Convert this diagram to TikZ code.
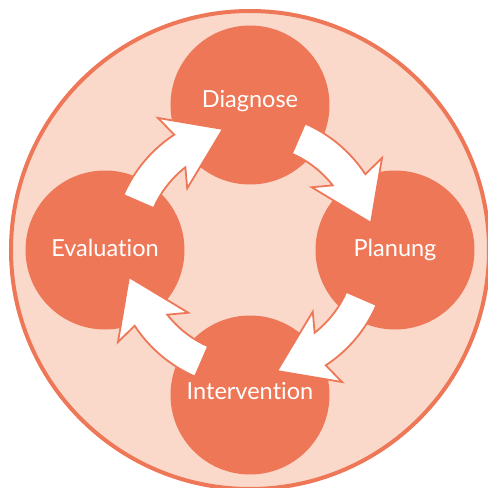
\documentclass[tikz,border=0pt]{standalone}
\usepackage{fontspec}
\setmainfont[Ligatures=NoCommon]{Lato}
\definecolor{salmon}{RGB}{238,119,87}
\definecolor{blush}{RGB}{250,217,203}
\begin{document}
\begin{tikzpicture}[x=1pt,y=1pt,
  phase/.style={circle,fill=salmon,minimum size=159pt,inner sep=0pt},
  lbl/.style={text=white,font=\fontsize{23.5}{24}\selectfont,anchor=base,inner sep=0pt},
  cyc/.style={fill=white,draw=salmon,line width=1.8pt,line join=miter}]
\useasboundingbox (-250,-238) rectangle (238,250);
\draw[fill=blush,draw=salmon,line width=4pt] (0,0) circle (239);
\node[phase] (diag) at (0,145) {};
\node[phase] (plan) at (145,0) {};
\node[phase] (inter) at (0,-145) {};
\node[phase] (eval) at (-145,0) {};
\foreach \a in {0,-90,-180,-270}
  \draw[cyc] ({\a+156.5}:138) arc[start angle={\a+156.5}, end angle={\a+123.3}, radius=138]
    -- ({\a+124.9}:161) -- ({\a+102.6}:124) -- ({\a+135.5}:88) -- ({\a+128}:105)
    arc[start angle={\a+128}, end angle={\a+156.5}, radius=105] -- cycle;
\node[lbl] (diagT) at ([yshift=-2pt]diag.center) {Diagnose};
\node[lbl] (planT) at ([yshift=-6pt]plan.center) {Planung};
\node[lbl] (interT) at ([yshift=-4pt]inter.center) {Interven\kern0pt tion};
\node[lbl] (evalT) at ([yshift=-6pt]eval.center) {Evalua\kern0pt tion};
\end{tikzpicture}
\end{document}
